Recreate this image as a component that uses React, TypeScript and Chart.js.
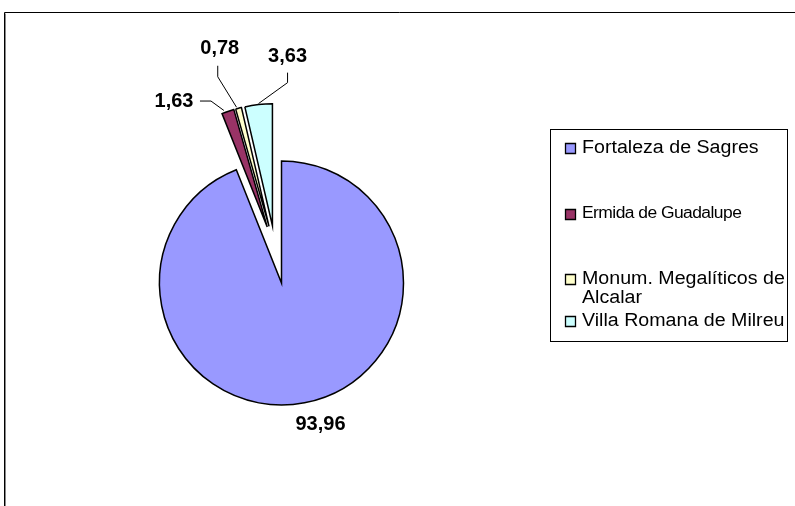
import { useEffect, useRef } from 'react';
import { Chart, registerables } from 'chart.js';

Chart.register(...registerables);

// ---- data ----
const categories = [
  'Fortaleza de Sagres',
  'Ermida de Guadalupe',
  'Monum. Megalíticos de Alcalar',
  'Villa Romana de Milreu',
];
const shares = [93.96, 1.63, 0.78, 3.63];
const sliceColors = ['#9999FF', '#993366', '#FFFFCC', '#CCFFFF'];

const FONT = '"Liberation Sans", Arial, Helvetica, sans-serif';
const fmt = (v: number) => v.toFixed(2).replace('.', ',');

// draws the outer chart frame (top + left lines)
const framePlugin = {
  id: 'frame',
  beforeDraw(chart: any) {
    const ctx = chart.ctx;
    ctx.save();
    ctx.fillStyle = '#ffffff';
    ctx.fillRect(0, 0, chart.width, chart.height);
    ctx.strokeStyle = '#000';
    ctx.lineWidth = 1;
    ctx.beginPath();
    ctx.moveTo(4.5, chart.height);
    ctx.lineTo(4.5, 12.5);
    ctx.lineTo(chart.width, 12.5);
    ctx.stroke();
    ctx.strokeStyle = '#888';
    ctx.beginPath();
    ctx.moveTo(5.5, chart.height);
    ctx.lineTo(5.5, 13.5);
    ctx.stroke();
    ctx.restore();
  },
};

// explodes the marked slices: a shared shift along the group's bisector
// plus an individual shift along each slice's own bisector
const explodePlugin = {
  id: 'explode',
  afterDatasetsUpdate(chart: any, _args: any, opts: any) {
    const meta = chart.getDatasetMeta(0);
    const idx: number[] = opts.indices || [];
    if (!idx.length) return;
    const els = idx.map((i) => meta.data[i]).filter(Boolean);
    const start = Math.min(...els.map((e: any) => e.startAngle));
    const end = Math.max(...els.map((e: any) => e.endAngle));
    const gmid = (start + end) / 2;
    idx.forEach((i) => {
      const el: any = meta.data[i];
      if (!el) return;
      const own = (el.startAngle + el.endAngle) / 2;
      const d = (opts.distances && opts.distances[i]) || 0;
      el.x += Math.cos(gmid) * opts.groupDistance + Math.cos(own) * d;
      el.y += Math.sin(gmid) * opts.groupDistance + Math.sin(own) * d;
    });
  },
};

// value labels with leader lines
const valueLabelPlugin = {
  id: 'valueLabels',
  afterDatasetsDraw(chart: any, _args: any, opts: any) {
    const ctx = chart.ctx;
    const meta = chart.getDatasetMeta(0);
    const values = chart.data.datasets[0].data as number[];
    ctx.save();
    meta.data.forEach((el: any, i: number) => {
      const p = opts.placements[i];
      const mid = (el.startAngle + el.endAngle) / 2;
      const ax = el.x + Math.cos(mid) * el.outerRadius;
      const ay = el.y + Math.sin(mid) * el.outerRadius;
      const tx = ax + p.dx;
      const ty = ay + p.dy;
      if (p.leader) {
        ctx.strokeStyle = '#000';
        ctx.lineWidth = 1;
        ctx.beginPath();
        ctx.moveTo(tx + p.leader[0][0], ty + p.leader[0][1]);
        ctx.lineTo(tx + p.leader[1][0], ty + p.leader[1][1]);
        ctx.lineTo(ax + (p.end ? p.end[0] : 0), ay + (p.end ? p.end[1] : 0));
        ctx.stroke();
      }
      ctx.font = `bold 20px ${FONT}`;
      ctx.fillStyle = '#000';
      ctx.textAlign = 'center';
      ctx.textBaseline = 'middle';
      ctx.fillText(fmt(values[i]), tx, ty);
    });
    ctx.restore();
  },
};

// boxed legend on the right
const boxLegendPlugin = {
  id: 'boxLegend',
  afterDraw(chart: any, _args: any, o: any) {
    const ctx = chart.ctx;
    const ds = chart.data.datasets[0];
    const labels: string[] = chart.data.labels;
    ctx.save();
    ctx.strokeStyle = '#000';
    ctx.lineWidth = 1;
    ctx.strokeRect(o.left + 0.5, o.top + 0.5, o.right - o.left, o.bottom - o.top);
    labels.forEach((lab, i) => {
      const y = o.itemY[i];
      ctx.font = `${o.fontSizes[i]}px ${FONT}`;
      (ctx as any).letterSpacing = `${o.letterSpacing[i]}px`;
      const maxW = o.right - o.textX;
      const words = lab.split(' ');
      const lines: string[] = [];
      let cur = '';
      for (const w of words) {
        const test = cur ? cur + ' ' + w : w;
        if (cur && ctx.measureText(test).width * o.scaleX > maxW) {
          lines.push(cur);
          cur = w;
        } else cur = test;
      }
      lines.push(cur);
      const s = o.boxSize;
      ctx.beginPath();
      ctx.rect(o.boxX + 0.5, Math.round(y - s / 2) + 0.5, s, s);
      ctx.fillStyle = ds.backgroundColor[i];
      ctx.fill();
      ctx.lineWidth = 1.3;
      ctx.strokeStyle = '#000';
      ctx.stroke();
      ctx.fillStyle = '#000';
      ctx.textAlign = 'left';
      ctx.textBaseline = 'middle';
      lines.forEach((ln, k) => {
        ctx.save();
        ctx.translate(o.textX, y + k * o.lineHeight);
        ctx.scale(o.scaleX, 1);
        ctx.fillText(ln, 0, 0);
        ctx.restore();
      });
      (ctx as any).letterSpacing = '0px';
    });
    ctx.restore();
  },
};

export default function App() {
  const ref = useRef<HTMLCanvasElement>(null);

  useEffect(() => {
    const chart = new Chart(ref.current as HTMLCanvasElement, {
      type: 'pie',
      data: {
        labels: categories,
        datasets: [
          {
            data: shares,
            backgroundColor: sliceColors,
            borderColor: '#000',
            borderWidth: 1.5,
            borderJoinStyle: 'miter',
            clip: false,
          } as any,
        ],
      },
      options: {
        responsive: false,
        animation: false,
        events: [],
        radius: 122,
        layout: { padding: { left: 0, right: 232, top: 60, bottom: 0 } },
        plugins: {
          legend: { display: false },
          tooltip: { enabled: false },
          explode: { indices: [1, 2, 3], groupDistance: 33, distances: [0, 25, 25, 25] },
          valueLabels: {
            placements: [
              { dx: 16, dy: 22 },
              { dx: -53.9, dy: -10.4, leader: [[26, 0], [37, 0]], end: [-4, -1] },
              { dx: -18.8, dy: -59.5, leader: [[-2, 17], [-2, 28]], end: [-2, -1] },
              { dx: 29, dy: -47.9, leader: [[0, 16], [0, 26]], end: [0, -1] },
            ],
          },
          boxLegend: {
            left: 550,
            top: 129,
            right: 787,
            bottom: 341,
            itemY: [148, 214, 279, 321],
            fontSizes: [18, 16, 18, 18],
            letterSpacing: [0, -0.5, 0, 0],
            scaleX: 1.09,
            lineHeight: 19,
            boxX: 565,
            boxSize: 10,
            textX: 582,
          },
        } as any,
      } as any,
      plugins: [framePlugin, explodePlugin, valueLabelPlugin, boxLegendPlugin],
    });
    return () => chart.destroy();
  }, []);

  return (
    <div style={{ position: 'fixed', left: 0, top: 0, width: 795, height: 506, background: '#fff' }}>
      <canvas ref={ref} width={795} height={506} style={{ display: 'block' }} />
    </div>
  );
}
